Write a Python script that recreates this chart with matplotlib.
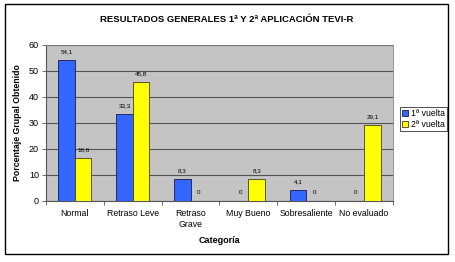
import numpy as np
import matplotlib
matplotlib.use("Agg")
import matplotlib.pyplot as plt
from matplotlib.patches import Rectangle

plt.rcParams['font.family'] = ['Liberation Sans', 'DejaVu Sans']

categorias = ["Normal", "Retraso Leve", "Retraso\nGrave", "Muy Bueno", "Sobresaliente", "No evaluado"]
vuelta1 = [54.1, 33.3, 8.3, 0, 4.1, 0]
vuelta2 = [16.6, 45.8, 0, 8.3, 0, 29.1]
series = ["1ª vuelta", "2ª vuelta"]

W, H = 455, 262
fig = plt.figure(figsize=(W / 100, H / 100), dpi=100)
fig.patch.set_facecolor("white")
fig.add_artist(Rectangle((5 / W, 1 - 254 / H), 443 / W, 250 / H, transform=fig.transFigure,
                         fill=False, edgecolor="black", linewidth=1.0))

ax = fig.add_axes([46 / W, 1 - 201 / H, 347 / W, 156 / H])
ax.set_facecolor("#c4c4c4")
x = np.arange(len(categorias))
bw = 0.285
b1 = ax.bar(x - bw / 2, vuelta1, bw, color="#3366ff", edgecolor="#1a1a40", linewidth=0.6, label=series[0], zorder=3)
b2 = ax.bar(x + bw / 2, vuelta2, bw, color="#ffff00", edgecolor="#40401a", linewidth=0.6, label=series[1], zorder=3)

for bars, vals in ((b1, vuelta1), (b2, vuelta2)):
    for r, v in zip(bars, vals):
        txt = "0" if v == 0 else f"{v:.1f}".replace(".", ",")
        ax.text(r.get_x() + r.get_width() / 2, v + 2.2, txt, ha="center", va="bottom", fontsize=4.5)

ax.set_xlim(-0.5, len(categorias) - 0.5)
ax.set_ylim(0, 60)
ax.set_yticks(range(0, 61, 10))
ax.yaxis.grid(True, color="#555555", linewidth=0.8, zorder=0)
ax.set_axisbelow(True)
ax.set_xticks(np.arange(-0.5, len(categorias), 1))
ax.set_xticklabels([])
ax.set_xticks(x, minor=True)
ax.set_xticklabels(categorias, minor=True, fontsize=6.3)
ax.tick_params(axis="x", which="minor", length=0, pad=6)
ax.tick_params(axis="x", which="major", length=3, width=0.6, color="#555555")
ax.tick_params(axis="y", labelsize=6.5, length=3, width=0.6, color="#555555", pad=2)
for s in ["top", "right"]:
    ax.spines[s].set_color("#808080")
    ax.spines[s].set_linewidth(0.6)
for s in ["left", "bottom"]:
    ax.spines[s].set_color("#555555")
    ax.spines[s].set_linewidth(0.8)

ax.set_ylabel("Porcentaje Grupal Obtenido", fontsize=6.3, fontweight="bold", labelpad=5)
ax.set_xlabel("Categoría", fontsize=6.5, fontweight="bold", labelpad=5)

fig.text(227 / W, 1 - 20 / H, "RESULTADOS GENERALES 1ª Y 2ª APLICACIÓN TEVI-R",
         ha="center", va="center", fontsize=6.8, fontweight="bold")

leg = fig.legend(handles=[b1, b2], loc="upper left", bbox_to_anchor=(400 / W, 1 - 107 / H),
                 fontsize=6.3, frameon=True, fancybox=False, handlelength=0.7, handleheight=0.7,
                 handletextpad=0.3, borderpad=0.25, labelspacing=0.2, borderaxespad=0)
leg.get_frame().set_edgecolor("black")
leg.get_frame().set_linewidth(0.6)

fig.savefig("out.png", dpi=100)
